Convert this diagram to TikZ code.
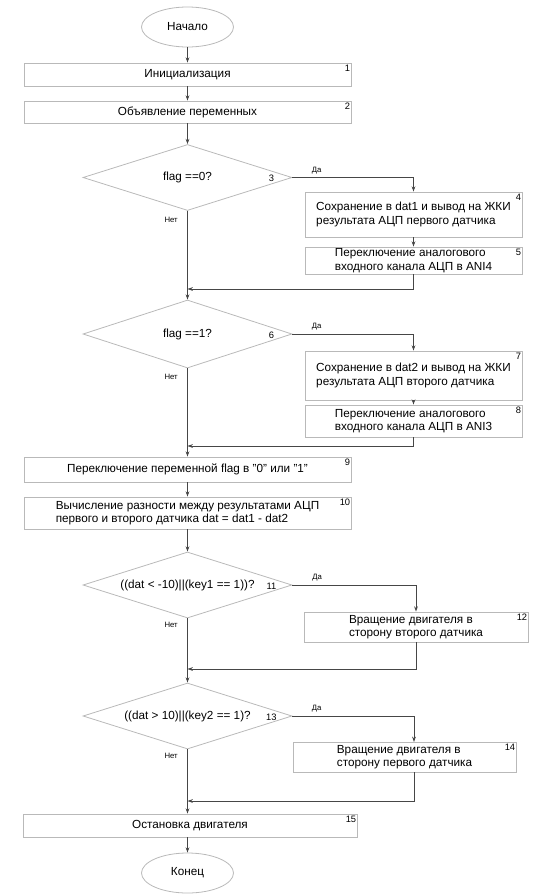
\documentclass[tikz,border=0pt]{standalone}
\usepackage{fontspec}
\setmainfont{Liberation Sans}
\usetikzlibrary{shapes.geometric, arrows.meta}
\definecolor{boxgray}{RGB}{185,185,185}
\definecolor{linegray}{RGB}{70,70,70}

\begin{document}
\begin{tikzpicture}[x=0.75pt, y=-0.75pt,
    every node/.style={text=black, font=\fontsize{8.8}{10}\selectfont},
    term/.style={ellipse, draw=boxgray, line width=0.6pt, inner sep=0pt,
      minimum width=69pt, minimum height=30pt},
    proc/.style={rectangle, draw=boxgray, line width=0.6pt, inner sep=0pt, align=left},
    decision/.style={diamond, draw=boxgray, line width=0.6pt, inner sep=0pt, aspect=3.2,
      minimum width=156.75pt, minimum height=49.5pt},
    flow/.style={draw=linegray, line width=0.6pt, -{Stealth[length=4pt, width=2.8pt]}},
    num/.style={font=\fontsize{7}{8}\selectfont, inner sep=0pt},
    answer/.style={font=\fontsize{5.8}{6}\selectfont, inner sep=0pt}]
  \useasboundingbox (0,0) rectangle (536,896);
  % main column
  \node[term] (start) at (187.5,27) {Начало};
  \node[proc, minimum width=245.25pt, minimum height=17.25pt] (b1) at (187.5,74.5) {Инициализация};
  \node[proc, minimum width=245.25pt, minimum height=16.5pt] (b2) at (187.5,112) {Объявление переменных};
  \node[decision] (d3) at (187.5,177.5) {flag ==0?};
  \node[decision, minimum height=51pt] (d6) at (187.5,334) {flag ==1?};
  \node[proc, minimum width=245.25pt, minimum height=18.75pt] (b9) at (187.5,469.5)
    {Переключение переменной flag в "0" или "1"};
  \node[proc, minimum width=245.25pt, minimum height=24pt] (b10) at (187.5,513)
    {Вычисление разности между результатами АЦП\\первого и второго датчика dat = dat1 - dat2};
  \node[decision] (d11) at (187.5,585) {((dat < -10)||(key1 == 1))?};
  \node[decision] (d13) at (187.5,716) {((dat > 10)||(key2 == 1)?};
  \node[proc, minimum width=250.5pt, minimum height=17.25pt] (b15) at (190,825.5) {Остановка двигателя};
  \node[term] (end) at (187.5,873) {Конец};
  % branches on the right
  \node[proc, minimum width=162.75pt, minimum height=33.75pt] (b4) at (413.5,214.5)
    {Сохранение в dat1 и вывод на ЖКИ\\результата АЦП первого датчика};
  \node[proc, minimum width=162.75pt, minimum height=20.25pt] (b5) at (413.5,260.5)
    {Переключение аналогового\\входного канала АЦП в ANI4};
  \node[proc, minimum width=162.75pt, minimum height=36.75pt] (b7) at (413.5,375.5)
    {Сохранение в dat2 и вывод на ЖКИ\\результата АЦП второго датчика};
  \node[proc, minimum width=162.75pt, minimum height=24pt] (b8) at (413.5,421)
    {Переключение аналогового\\входного канала АЦП в ANI3};
  \node[proc, minimum width=168pt, minimum height=22.5pt] (b12) at (416,627)
    {Вращение двигателя в\\сторону второго датчика};
  \node[proc, minimum width=167.25pt, minimum height=22.5pt] (b14) at (404.5,757)
    {Вращение двигателя в\\сторону первого датчика};
  % joins on the main line
  \coordinate (j1) at (187.5,289);
  \coordinate (j2) at (187.5,446);
  \coordinate (j3) at (187.5,669);
  \coordinate (j4) at (187.5,801);
  \coordinate (c14) at (414,742);
  % block numbers
  \foreach \b/\n in {b1/1, b2/2, b4/4, b5/5, b7/7, b8/8, b9/9, b10/10, b12/12, b14/14, b15/15}
    \node[num, anchor=north east] at ([shift={(-1,2)}]\b.north east) {\n};
  \foreach \d/\n in {d3/3, d6/6, d11/11, d13/13}
    \node[num] at ([shift={(-21,1)}]\d.east) {\n};
  % connectors
  \draw[flow] (start) -- (b1);
  \draw[flow] (b1) -- (b2);
  \draw[flow] (b2) -- (d3);
  \draw[flow] (d3.east) -| node[answer, pos=0.1, above=2.5pt] {Да} (b4.north);
  \draw[flow] (b4) -- (b5);
  \draw[flow] (b5.south) |- (j1);
  \draw[flow] (d3.south) -- node[answer, pos=0.1, left=7pt] {Нет} (d6.north);
  \draw[flow] (d6.east) -| node[answer, pos=0.1, above=2.5pt] {Да} (b7.north);
  \draw[flow] (b7) -- (b8);
  \draw[flow] (b8.south) |- (j2);
  \draw[flow] (d6.south) -- node[answer, pos=0.1, left=7pt] {Нет} (b9.north);
  \draw[flow] (b9) -- (b10);
  \draw[flow] (b10) -- (d11);
  \draw[flow] (d11.east) -| node[answer, pos=0.1, above=2.5pt] {Да} (b12.north);
  \draw[flow] (b12.south) |- (j3);
  \draw[flow] (d11.south) -- node[answer, pos=0.1, left=7pt] {Нет} (d13.north);
  \draw[flow] (d13.east) -| node[answer, pos=0.1, above=2.5pt] {Да} (c14);
  \draw[flow] (c14 |- b14.south) |- (j4);
  \draw[flow] (d13.south) -- node[answer, pos=0.1, left=7pt] {Нет} (d13.south |- b15.north);
  \draw[flow] (b15.south -| end) -- (end);
\end{tikzpicture}
\end{document}
